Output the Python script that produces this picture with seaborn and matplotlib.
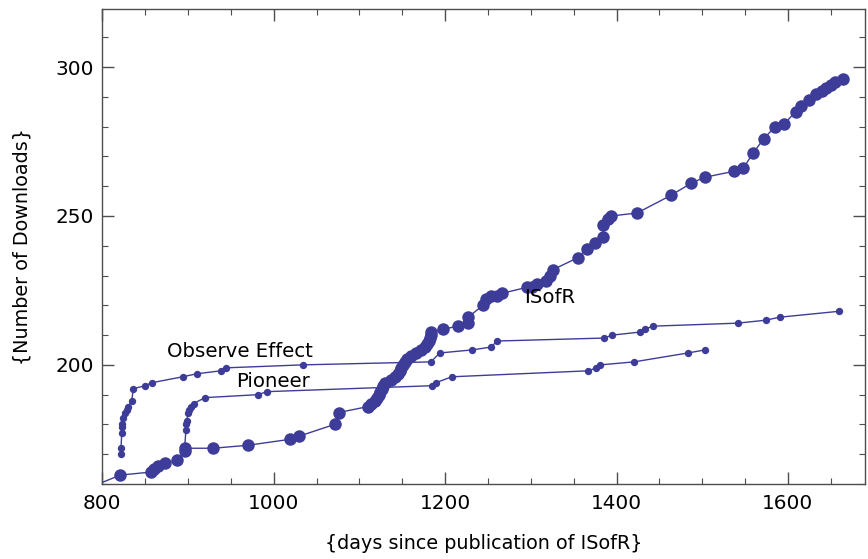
import matplotlib as mpl

mpl.use('Agg')
import pandas as pd
import matplotlib.pyplot as plt
import seaborn as sns
from matplotlib.ticker import MultipleLocator

sns.set_style('white')
plt.rcParams['font.family'] = ['DejaVu Sans']

#### data ####
isofr_days = [770, 821, 857, 860, 865, 873, 887, 896, 897, 929, 970, 1019,
              1029, 1071, 1076, 1110, 1114, 1118, 1121, 1123, 1124, 1126,
              1127, 1130, 1137, 1142, 1145, 1147, 1149, 1151, 1153, 1156,
              1160, 1166, 1172, 1176, 1179, 1181, 1182, 1183, 1184, 1198,
              1215, 1227, 1227, 1244, 1248, 1254, 1260, 1266, 1295, 1301,
              1307, 1318, 1322, 1326, 1355, 1365, 1375, 1384, 1384, 1390,
              1394, 1424, 1464, 1487, 1503, 1537, 1548, 1559, 1572, 1585,
              1596, 1609, 1615, 1625, 1633, 1640, 1645, 1650, 1655, 1664]
isofr_downloads = [157, 163, 164, 165, 166, 167, 168, 171, 172, 172, 173, 175,
                   176, 180, 184, 186, 187, 188, 189, 190, 191, 192,
                   193, 194, 195, 196, 197, 198, 199, 200, 201, 202,
                   203, 204, 205, 206, 207, 208, 209, 210, 211, 212,
                   213, 214, 216, 220, 222, 223, 223, 224, 226, 226,
                   227, 228, 230, 232, 236, 239, 241, 243, 247, 249,
                   250, 251, 257, 261, 263, 265, 266, 271, 276, 280,
                   281, 285, 287, 289, 291, 292, 293, 294, 295, 296]

observe_days = [821.5, 821.8, 822.6, 822.6, 823.3, 824.5, 826.5, 828.5,
                830.3, 834.3, 836.2, 849.8, 857.6, 893.8, 910.1, 938.1,
                944.3, 1033.7, 1183.3, 1193.8, 1230.8, 1254.1, 1260,
                1385.1, 1395.2, 1427.1, 1432.9, 1442.6, 1541.3, 1574,
                1590.3, 1660]
observe_downloads = [170, 172, 177, 179, 180, 182, 184, 185,
                     186, 188, 192, 193, 194, 196, 197, 198,
                     199, 200, 201, 204, 205, 206, 208,
                     209, 210, 211, 212, 213, 214, 215,
                     216, 218]

pioneer_days = [896, 897.5, 897.5, 898.7, 899.9, 901.4, 903.8, 906.4,
                919.8, 982, 991.7, 1184.5, 1189, 1208, 1366.8, 1376.5,
                1381.2, 1420.4, 1483.4, 1502.8]
pioneer_downloads = [172, 178, 180, 181, 184, 185, 186, 187,
                     189, 190, 191, 193, 194, 196, 198, 199,
                     200, 201, 204, 205]

series_labels = ['ISofR', 'Observe Effect', 'Pioneer']
label_xy = [(1322, 222.5), (960, 204.5), (999, 194.3)]

line_color = '#3d3d99'
frame_color = '#4d4d4d'

fig = plt.figure(figsize=(8.68, 5.59), dpi=100)
ax = fig.add_axes([0.1179, 0.1342, 0.8787, 0.8497])

sns.lineplot(x=isofr_days, y=isofr_downloads, sort=False, estimator=None,
             color=line_color, lw=1, marker='o', markersize=9,
             markeredgewidth=0, ax=ax)
sns.lineplot(x=observe_days, y=observe_downloads, sort=False, estimator=None,
             color=line_color, lw=1, marker='o', markersize=5.3,
             markeredgewidth=0, ax=ax)
sns.lineplot(x=pioneer_days, y=pioneer_downloads, sort=False, estimator=None,
             color=line_color, lw=1, marker='o', markersize=5.3,
             markeredgewidth=0, ax=ax)

for name, (tx, ty) in zip(series_labels, label_xy):
    ax.text(tx, ty, name, fontsize=14.2, ha='center', va='center',
            color='black')

ax.set_xlim(800, 1690)
ax.set_ylim(160, 319.5)

ax.xaxis.set_major_locator(MultipleLocator(200))
ax.xaxis.set_minor_locator(MultipleLocator(50))
ax.yaxis.set_major_locator(MultipleLocator(50))
ax.yaxis.set_minor_locator(MultipleLocator(10))

ax.tick_params(which='both', direction='in', top=True, right=True,
               bottom=True, left=True, color=frame_color, labelsize=14.4,
               labelcolor='black')
ax.tick_params(axis='x', pad=7)
ax.tick_params(axis='y', pad=6)
ax.tick_params(which='major', length=8.5, width=1)
ax.tick_params(which='minor', length=4.5, width=0.8)

for s in ax.spines.values():
    s.set_color(frame_color)
    s.set_linewidth(1)

ax.set_xlabel('{days since publication of ISofR}', fontsize=13.8,
              color='black')
ax.set_ylabel('{Number of Downloads}', fontsize=13.8, color='black')
ax.xaxis.set_label_coords(0.5, -0.105)
ax.yaxis.set_label_coords(-0.093, 0.5)

fig.savefig('out.png', dpi=100)
